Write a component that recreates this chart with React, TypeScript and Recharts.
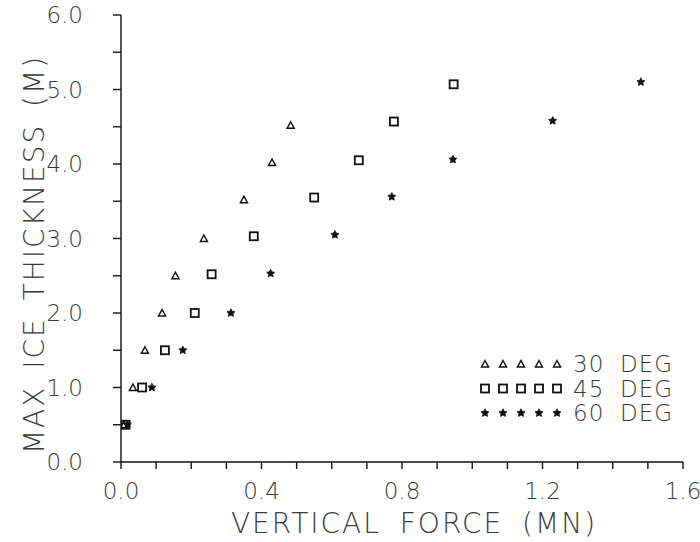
import React from 'react';
import { ScatterChart, Scatter, XAxis, YAxis, Legend } from 'recharts';

const force30 = [0.008, 0.034, 0.068, 0.117, 0.155, 0.236, 0.35, 0.43, 0.483];
const thick30 = [0.5, 1.0, 1.5, 2.0, 2.5, 3.0, 3.52, 4.02, 4.52];

const force45 = [0.013, 0.06, 0.125, 0.21, 0.258, 0.378, 0.55, 0.677, 0.777, 0.947];
const thick45 = [0.5, 1.0, 1.5, 2.0, 2.52, 3.03, 3.55, 4.05, 4.57, 5.07];

const force60 = [0.018, 0.088, 0.176, 0.313, 0.426, 0.609, 0.771, 0.945, 1.229, 1.48];
const thick60 = [0.5, 1.0, 1.5, 2.0, 2.53, 3.05, 3.56, 4.06, 4.58, 5.1];

const xTicks = [0, 0.1, 0.2, 0.3, 0.4, 0.5, 0.6, 0.7, 0.8, 0.9, 1.0, 1.1, 1.2, 1.3, 1.4, 1.5, 1.6];
const yTicks = [0, 0.5, 1, 1.5, 2, 2.5, 3, 3.5, 4, 4.5, 5, 5.5, 6];
const legendLabels = ['30 DEG', '45 DEG', '60 DEG'];

const toPts = (xs: number[], ys: number[]) => xs.map((x, i) => ({ x, y: ys[i] }));
const d30 = toPts(force30, thick30);
const d45 = toPts(force45, thick45);
const d60 = toPts(force60, thick60);

const INK = '#111';
const FONT = '"DejaVu Sans", "Liberation Sans", sans-serif';
const TXT = '#3a3a3a';

const Tri = ({ cx, cy }: any) => (
  <path d={`M${cx - 3.5},${cy + 3} L${cx + 3.5},${cy + 3} L${cx},${cy - 3.5} Z`} fill="none" stroke={INK} strokeWidth={1.5} />
);
const Sq = ({ cx, cy }: any) => (
  <rect x={cx - 4} y={cy - 4} width={8} height={8} fill="none" stroke={INK} strokeWidth={1.8} />
);
const starPath = (cx: number, cy: number, r: number) => {
  let d = '';
  for (let i = 0; i < 10; i++) {
    const rr = i % 2 === 0 ? r : r * 0.5;
    const a = -Math.PI / 2 + (i * Math.PI) / 5;
    d += (i === 0 ? 'M' : 'L') + (cx + rr * Math.cos(a)).toFixed(2) + ',' + (cy + rr * Math.sin(a)).toFixed(2);
  }
  return d + 'Z';
};
const Star = ({ cx, cy }: any) => <path d={starPath(cx, cy, 4.2)} fill={INK} stroke={INK} strokeWidth={0.8} />;

const shapes = [Tri, Sq, Star];

const LegendBox = () => (
  <svg width={210} height={80} style={{ display: 'block' }}>
    {legendLabels.map((lab, r) => {
      const Shape = shapes[r];
      const cy = 14 + r * 24.5;
      return (
        <g key={lab}>
          {[0, 1, 2, 3, 4].map((k) => (
            <Shape key={k} cx={10 + k * 18} cy={cy} />
          ))}
          <text x={98} y={cy + 8} fontSize={23} fill={TXT} fontFamily={FONT} fontWeight={300} letterSpacing={1}>
            {lab.split(' ')[0]}
          </text>
          <text x={145} y={cy + 8} fontSize={23} fill={TXT} fontFamily={FONT} fontWeight={300} letterSpacing={1}>
            {lab.split(' ')[1]}
          </text>
        </g>
      );
    })}
  </svg>
);

const YTitle = ({ viewBox }: any) => {
  const x = viewBox.x + 34;
  const y = viewBox.y + viewBox.height / 2 + 16;
  return (
    <text x={x} y={y} transform={`rotate(-90 ${x} ${y})`} textAnchor="middle" dominantBaseline="central"
      fontSize={28} fill={TXT} fontFamily={FONT} fontWeight={300} letterSpacing={2} wordSpacing={6}>
      MAX ICE THICKNESS (M)
    </text>
  );
};

const XTitle = ({ viewBox }: any) => {
  const x = viewBox.x + viewBox.width / 2 + 12;
  const y = 533;
  return (
    <text x={x} y={y} textAnchor="middle" fontSize={28} fill={TXT} fontFamily={FONT} fontWeight={300}
      letterSpacing={2} wordSpacing={8}>
      VERTICAL FORCE (MN)
    </text>
  );
};

export default function App() {
  return (
    <div style={{ position: 'absolute', left: 0, top: 0, background: '#fff' }}>
      <ScatterChart width={700} height={542} margin={{ top: 15, right: 17, bottom: 0, left: 0 }}>
        <XAxis
          type="number"
          dataKey="x"
          domain={[0, 1.6]}
          ticks={xTicks}
          interval={0}
          allowDataOverflow
          height={80}
          stroke={INK}
          strokeWidth={1.4}
          tickSize={7}
          tickMargin={14}
          tick={{ fontSize: 23, fill: TXT, fontFamily: FONT, fontWeight: 300 }}
          tickFormatter={(v: number) => (Math.round(v * 10) % 4 === 0 ? v.toFixed(1) : '')}
          label={<XTitle />}
        />
        <YAxis
          type="number"
          dataKey="y"
          domain={[0, 6]}
          ticks={yTicks}
          interval={0}
          width={121}
          stroke={INK}
          strokeWidth={1.4}
          tickSize={8}
          tickMargin={30}
          tick={{ fontSize: 23, fill: TXT, fontFamily: FONT, fontWeight: 300 }}
          tickFormatter={(v: number) => (Math.round(v * 10) % 10 === 0 ? v.toFixed(1) : '')}
          label={<YTitle />}
        />
        <Scatter data={d30} shape={<Tri />} isAnimationActive={false} />
        <Scatter data={d45} shape={<Sq />} isAnimationActive={false} />
        <Scatter data={d60} shape={<Star />} isAnimationActive={false} />
        <Legend
          layout="horizontal"
          verticalAlign="middle"
          align="center"
          content={<LegendBox />}
          wrapperStyle={{ position: 'absolute', left: 475, top: 350, width: 210, height: 80 }}
        />
      </ScatterChart>
    </div>
  );
}
